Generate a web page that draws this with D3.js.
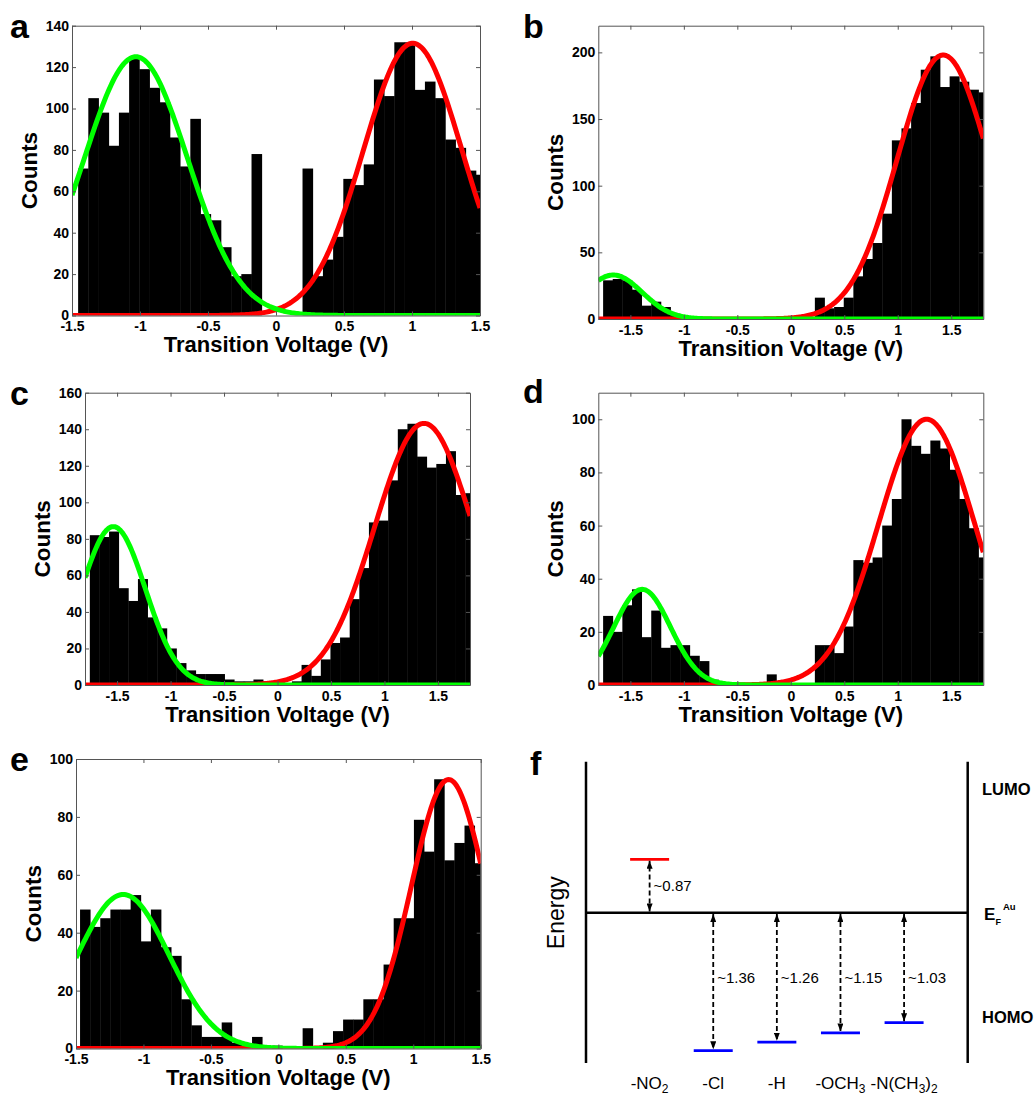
<!DOCTYPE html>
<html>
<head>
<meta charset="utf-8">
<script src="https://cdn.jsdelivr.net/npm/d3@7"></script>
<style>
  body { margin: 0; background: #fff; }
  svg { display: block; font-family: "Liberation Sans", Arial, sans-serif; }
</style>
</head>
<body>
<div id="chart"></div>
<script>
// ---- values ----
const voltTicks = [-1.5, -1, -0.5, 0, 0.5, 1, 1.5];

// a
const countsA = [71,105,98,82,98,124,119,110,103,86,72,95,49,46,33,19,20,78,0,0,
                 0,0,71,19,27,38,66,63,73,114,106,132,132,109,113,105,85,81,70,68];
const binStartA = -1.455, binWidthA = 0.075;
const homoFitA = [125, -1.03, 0.38];    // amplitude, centre (V), sigma (V)
const lumoFitA = [131.5, 1.005, 0.363];
const yTicksA = [0, 20, 40, 60, 80, 100, 120, 140];

// b
const countsB = [29,30,29,22,10,13,9,4,1,0,0,0,0,0,0,0,0,0,0,0,
                 0,0,16,8,9,16,32,45,57,79,134,143,162,187,197,174,182,178,172,170];
const binStartB = -1.755, binWidthB = 0.09;
const homoFitB = [33, -1.66, 0.27];
const lumoFitB = [198, 1.425, 0.43];
const yTicksB = [0, 50, 100, 150, 200];

// c
const countsC = [82,81,84,53,46,58,37,31,20,12,8,6,6,6,3,2,2,3,2,1,
                 1,2,11,5,14,23,26,47,64,89,90,112,140,143,125,119,121,128,104,105];
const binStartC = -1.755, binWidthC = 0.09;
const homoFitC = [86.7, -1.535, 0.3];
const lumoFitC = [143.2, 1.37, 0.46];
const yTicksC = [0, 20, 40, 60, 80, 100, 120, 140, 160];

// d
const countsD = [26,20,30,36,18,28,14,15,15,11,9,2,0,0,0,0,0,4,0,0,
                 0,0,15,15,12,22,47,46,48,60,70,100,90,87,92,89,81,70,59,48];
const binStartD = -1.755, binWidthD = 0.09;
const homoFitD = [36, -1.39, 0.265];
const lumoFitD = [100, 1.27, 0.45];
const yTicksD = [0, 20, 40, 60, 80, 100];

// e
const countsE = [48,42,45,48,48,53,37,48,35,32,17,8,4,4,9,2,1,4,0,1,
                 0,0,7,0,2,6,10,10,17,17,29,45,45,79,68,93,65,71,77,64];
const binStartE = -1.47, binWidthE = 0.075;
const homoFitE = [53.2, -1.15, 0.34];
const lumoFitE = [92.9, 1.262, 0.275];
const yTicksE = [0, 20, 40, 60, 80, 100];

// f : energy diagram
const substituents = ["-NO2", "-Cl", "-H", "-OCH3", "-N(CH3)2"];
const levelEnergy = [0.87, -1.36, -1.26, -1.15, -1.03];   // relative to E_F (eV)
const gapLabels = ["~0.87", "~1.36", "~1.26", "~1.15", "~1.03"];

// ---- drawing ----
const W = 1035, H = 1095;
const FONT = '"Liberation Sans", Arial, sans-serif';
const AXIS = "#555";

const svg = d3.select("#chart").append("svg")
  .attr("width", W).attr("height", H);
svg.append("rect").attr("width", W).attr("height", H).attr("fill", "#fff");
const defs = svg.append("defs");

const panels = [
  { name: "a", left: 72, right: 480, top: 25.7, bottom: 315.5, xDomain: [-1.5, 1.5], yMax: 140,
    yTicks: yTicksA, counts: countsA, binStart: binStartA, binWidth: binWidthA,
    homo: homoFitA, lumo: lumoFitA, labelX: 10, labelY: 38 },
  { name: "b", left: 598.3, right: 983.3, top: 25.7, bottom: 319, xDomain: [-1.8, 1.8], yMax: 220,
    yTicks: yTicksB, counts: countsB, binStart: binStartB, binWidth: binWidthB,
    homo: homoFitB, lumo: lumoFitB, labelX: 523, labelY: 38 },
  { name: "c", left: 85, right: 470, top: 392.7, bottom: 685, xDomain: [-1.8, 1.8], yMax: 160,
    yTicks: yTicksC, counts: countsC, binStart: binStartC, binWidth: binWidthC,
    homo: homoFitC, lumo: lumoFitC, labelX: 10, labelY: 405 },
  { name: "d", left: 598.3, right: 983.3, top: 392.7, bottom: 685, xDomain: [-1.8, 1.8], yMax: 110,
    yTicks: yTicksD, counts: countsD, binStart: binStartD, binWidth: binWidthD,
    homo: homoFitD, lumo: lumoFitD, labelX: 523, labelY: 403 },
  { name: "e", left: 76, right: 480.7, top: 759, bottom: 1048.5, xDomain: [-1.5, 1.5], yMax: 100,
    yTicks: yTicksE, counts: countsE, binStart: binStartE, binWidth: binWidthE,
    homo: homoFitE, lumo: lumoFitE, labelX: 10, labelY: 771 }
];

const gauss = ([amp, mu, s]) => v => amp * Math.exp(-((v - mu) ** 2) / (2 * s * s));

function styleAxis(g) {
  g.select(".domain").attr("stroke", AXIS).attr("stroke-width", 1);
  g.selectAll(".tick line").attr("stroke", AXIS);
  g.selectAll(".tick text")
    .attr("fill", "#000")
    .style("font-family", FONT)
    .style("font-weight", "bold")
    .style("font-size", "14px");
}

function drawHistogram(p) {
  const x = d3.scaleLinear().domain(p.xDomain).range([p.left, p.right]);
  const y = d3.scaleLinear().domain([0, p.yMax]).range([p.bottom, p.top]);
  const g = svg.append("g");

  defs.append("clipPath").attr("id", "clip-" + p.name)
    .append("rect")
    .attr("x", p.left).attr("y", p.top)
    .attr("width", p.right - p.left).attr("height", p.bottom - p.top);
  const plot = g.append("g").attr("clip-path", `url(#clip-${p.name})`);

  // bars
  const bins = p.counts.map((c, i) => ({
    x0: p.binStart + i * p.binWidth,
    x1: p.binStart + (i + 1) * p.binWidth,
    c
  })).filter(d => d.c > 0);

  plot.selectAll("rect.bar")
    .data(bins)
    .join("rect")
    .attr("class", "bar")
    .attr("x", d => x(d.x0))
    .attr("width", d => x(d.x1) - x(d.x0) + 0.4)
    .attr("y", d => y(d.c))
    .attr("height", d => y(0) - y(d.c))
    .attr("fill", "#000");

  // gaussian fits
  const vs = d3.range(p.xDomain[0], p.xDomain[1] + 0.005, 0.01);
  const line = f => d3.line().x(v => x(v)).y(v => y(f(v)))(vs);

  plot.append("path")
    .attr("d", line(gauss(p.lumo)))
    .attr("fill", "none").attr("stroke", "#ff0000").attr("stroke-width", 5);
  plot.append("path")
    .attr("d", line(gauss(p.homo)))
    .attr("fill", "none").attr("stroke", "#00ff00").attr("stroke-width", 5);

  // axes (box with inward ticks)
  g.append("g").attr("transform", `translate(0,${p.bottom})`)
    .call(d3.axisBottom(x).tickValues(voltTicks).tickFormat(d => String(d))
      .tickSizeInner(-4).tickSizeOuter(0).tickPadding(6))
    .call(styleAxis);
  g.append("g").attr("transform", `translate(0,${p.top})`)
    .call(d3.axisTop(x).tickValues(voltTicks).tickFormat("")
      .tickSizeInner(-4).tickSizeOuter(0))
    .call(styleAxis);
  g.append("g").attr("transform", `translate(${p.left},0)`)
    .call(d3.axisLeft(y).tickValues(p.yTicks).tickFormat(d => String(d))
      .tickSizeInner(-4).tickSizeOuter(0).tickPadding(3))
    .call(styleAxis);
  g.append("g").attr("transform", `translate(${p.right},0)`)
    .call(d3.axisRight(y).tickValues(p.yTicks).tickFormat("")
      .tickSizeInner(-4).tickSizeOuter(0))
    .call(styleAxis);

  // axis titles
  g.append("text")
    .attr("x", (p.left + p.right) / 2).attr("y", p.bottom + 36.5)
    .attr("text-anchor", "middle")
    .style("font-weight", "bold").style("font-size", "22px")
    .text("Transition Voltage (V)");
  g.append("text")
    .attr("transform", `translate(${p.left - 35},${(p.top + p.bottom) / 2}) rotate(-90)`)
    .attr("text-anchor", "middle")
    .style("font-weight", "bold").style("font-size", "22.5px")
    .text("Counts");

  // panel letter
  g.append("text")
    .attr("x", p.labelX).attr("y", p.labelY)
    .style("font-weight", "900").style("font-size", "34px")
    .text(p.name);
}

panels.forEach(drawHistogram);

// ---- panel f ----
(function drawEnergy() {
  const left = 586, right = 967.7, top = 761.7, bottom = 1063;
  const g = svg.append("g");
  const fx = d3.scalePoint().domain(substituents).range([left, right]).padding(1);
  const fy = d3.scaleLinear()
    .domain([-1.36, -1.03, 0, 0.87])
    .range([1050.7, 1022.7, 912.7, 859.3]);
  const half = 19.5;

  // electrodes and Fermi level
  g.append("line").attr("x1", left).attr("x2", left).attr("y1", top).attr("y2", bottom)
    .attr("stroke", "#000").attr("stroke-width", 2.5);
  g.append("line").attr("x1", right).attr("x2", right).attr("y1", top).attr("y2", bottom)
    .attr("stroke", "#000").attr("stroke-width", 2.5);
  g.append("line").attr("x1", left).attr("x2", right).attr("y1", fy(0)).attr("y2", fy(0))
    .attr("stroke", "#000").attr("stroke-width", 2.5);

  defs.append("marker")
    .attr("id", "arrowhead")
    .attr("viewBox", "0 0 10 10")
    .attr("refX", 10).attr("refY", 5)
    .attr("markerUnits", "userSpaceOnUse")
    .attr("markerWidth", 8).attr("markerHeight", 6)
    .attr("preserveAspectRatio", "none")
    .attr("orient", "auto-start-reverse")
    .append("path").attr("d", "M0,0 L10,5 L0,10 Z").attr("fill", "#000");

  const rows = substituents.map((s, i) => ({ s, e: levelEnergy[i], lab: gapLabels[i] }));

  // levels
  g.selectAll("line.level").data(rows).join("line")
    .attr("class", "level")
    .attr("x1", d => fx(d.s) - half).attr("x2", d => fx(d.s) + half)
    .attr("y1", d => fy(d.e)).attr("y2", d => fy(d.e))
    .attr("stroke", d => d.e > 0 ? "#ff0000" : "#0000ff")
    .attr("stroke-width", 2.7);

  // dashed double arrows
  g.selectAll("line.gap").data(rows).join("line")
    .attr("class", "gap")
    .attr("x1", d => fx(d.s)).attr("x2", d => fx(d.s))
    .attr("y1", d => fy(0) + (d.e > 0 ? -1.3 : 1.3))
    .attr("y2", d => fy(d.e) + (d.e > 0 ? 1.4 : -1.4))
    .attr("stroke", "#000").attr("stroke-width", 1.8)
    .attr("stroke-dasharray", "5,3")
    .attr("marker-start", "url(#arrowhead)")
    .attr("marker-end", "url(#arrowhead)");

  g.selectAll("text.gap").data(rows).join("text")
    .attr("class", "gap")
    .attr("x", d => fx(d.s) + 4)
    .attr("y", d => d.e > 0 ? (fy(0) + fy(d.e)) / 2 : 978)
    .attr("dy", "0.35em")
    .style("font-size", "15px")
    .text(d => d.lab);

  // substituent names with subscripts
  const names = g.selectAll("text.name").data(rows).join("text")
    .attr("class", "name")
    .attr("x", d => fx(d.s)).attr("y", 1089)
    .attr("text-anchor", "middle")
    .style("font-size", "17px");
  names.each(function (d) {
    const t = d3.select(this);
    let shifted = false;
    d.s.split(/(\d)/).filter(Boolean).forEach(part => {
      const ts = t.append("tspan").text(part);
      if (/\d/.test(part)) {
        ts.attr("dy", 4).style("font-size", "12px");
        shifted = true;
      } else if (shifted) {
        ts.attr("dy", -4);
        shifted = false;
      }
    });
  });

  // Energy axis title
  g.append("text")
    .attr("transform", `translate(564,${fy(0)}) rotate(-90)`)
    .attr("text-anchor", "middle")
    .style("font-size", "23px")
    .text("Energy");

  // right-side annotations
  g.append("text").attr("x", 982).attr("y", 795)
    .style("font-weight", "bold").style("font-size", "16.5px").text("LUMO");
  g.append("text").attr("x", 982).attr("y", 1023)
    .style("font-weight", "bold").style("font-size", "16.5px").text("HOMO");
  g.append("text").attr("x", 984).attr("y", 920)
    .style("font-weight", "bold").style("font-size", "17px").text("E");
  g.append("text").attr("x", 995.5).attr("y", 925)
    .style("font-weight", "bold").style("font-size", "9px").text("F");
  g.append("text").attr("x", 1003).attr("y", 910)
    .style("font-weight", "bold").style("font-size", "9.5px").text("Au");

  g.append("text").attr("x", 530).attr("y", 775)
    .style("font-weight", "900").style("font-size", "34px").text("f");
})();
</script>
</body>
</html>
